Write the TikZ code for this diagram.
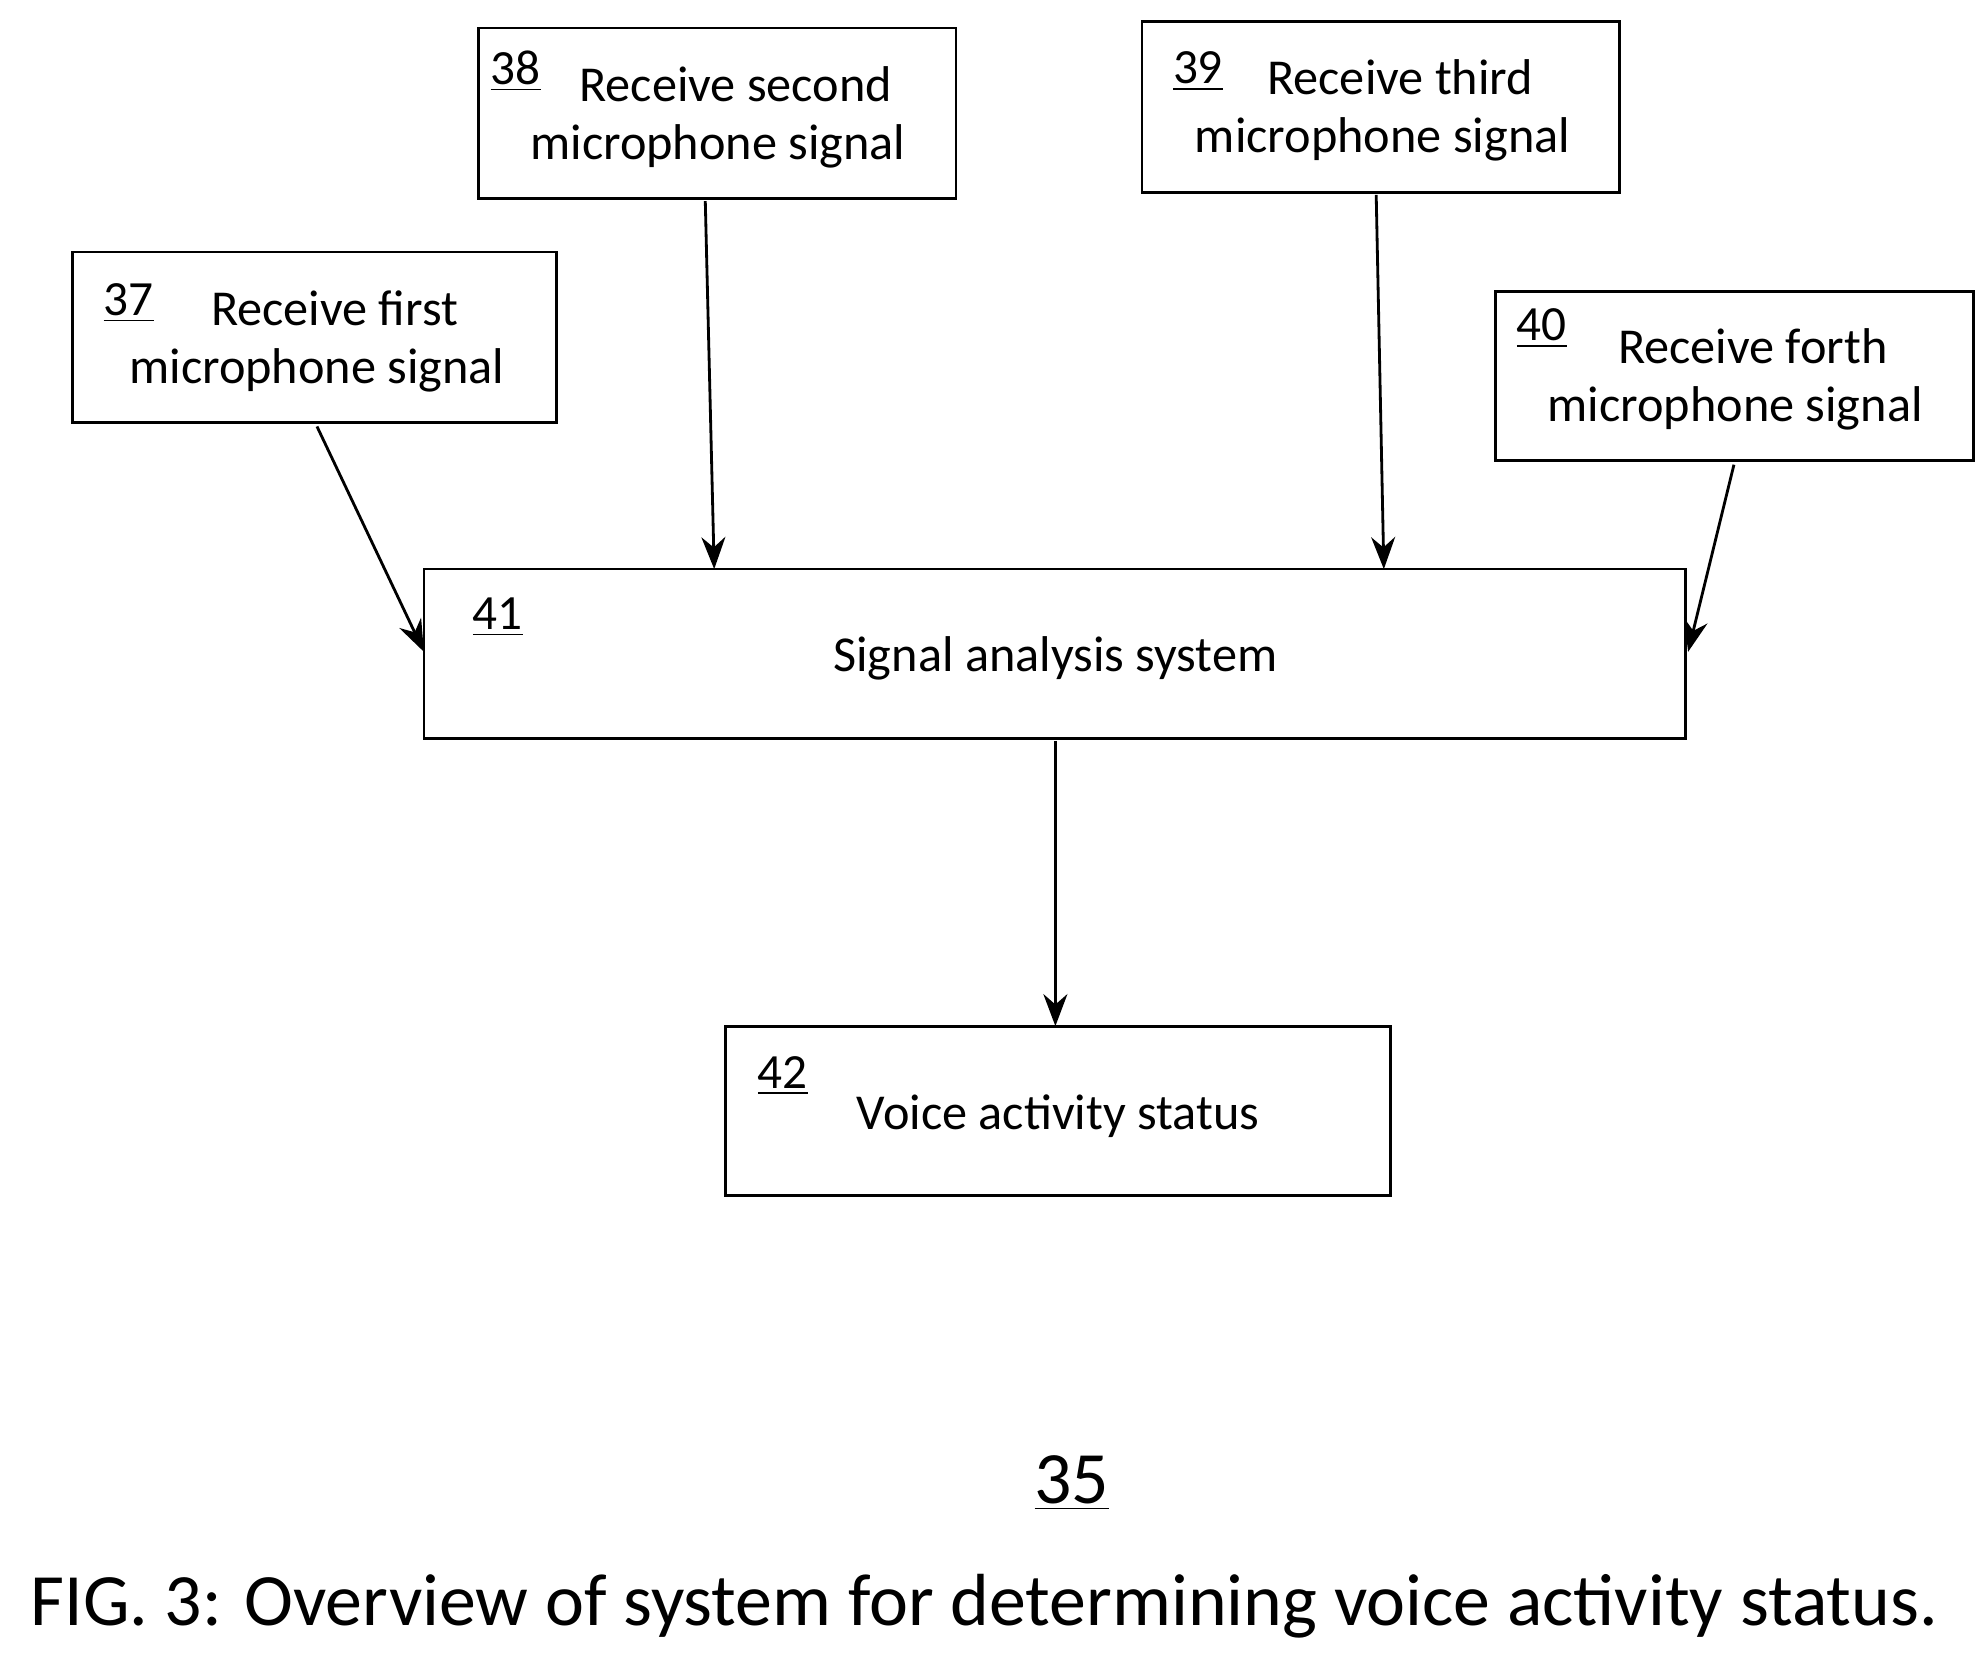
\documentclass[tikz,border=0pt]{standalone}
\usepackage{fontspec}
\setmainfont{Carlito}
\usetikzlibrary{positioning,arrows.meta}
\tikzset{
  box/.style={draw, thick, rectangle, inner sep=0pt},
  boxtext/.style={font=\fontsize{14.3pt}{16.5pt}\selectfont, align=center},
  num/.style={font=\fontsize{14pt}{15pt}\selectfont, anchor=center},
  flow/.style={thick, -{Stealth[length=3.2mm, width=2.4mm]}},
}
\begin{document}
\begin{tikzpicture}[x=0.01273cm, y=-0.01273cm]
\useasboundingbox (0,0) rectangle (1560,1299);

% input boxes
\draw[box] (57,198) rectangle (437,332);
\node[boxtext] (t37) at (249,268) {\hspace*{0.7em}Receive first\\microphone signal};
\node[num] (n37) at (101,238) {\underline{37}};

\draw[box] (376,22) rectangle (751,156);
\node[boxtext] (t38) at (564,92) {\hspace*{0.7em}Receive second\\microphone signal};
\node[num] (n38) at (405,56) {\underline{38}};

\draw[box] (897,17) rectangle (1272,151);
\node[boxtext] (t39) at (1086,87) {\hspace*{0.7em}Receive third\\microphone signal};
\node[num] (n39) at (941,56) {\underline{39}};

\draw[box] (1175,229) rectangle (1550,362);
\node[boxtext] (t40) at (1363,298) {\hspace*{0.7em}Receive forth\\microphone signal};
\node[num] (n40) at (1211,258) {\underline{40}};

% analysis and result
\draw[box] (333,447) rectangle (1324,580);
\node[boxtext] (t41) at (829,517) {Signal analysis system};
\node[num] (n41) at (391,485) {\underline{41}};

\draw[box] (570,806) rectangle (1092,939);
\node[boxtext] (t42) at (831,877) {Voice activity status};
\node[num] (n42) at (615,845) {\underline{42}};

% connectors
\coordinate (a37) at (249,335);  \coordinate (b37) at (333,512);
\coordinate (a38) at (554,158);  \coordinate (b38) at (561,447);
\coordinate (a39) at (1081,153); \coordinate (b39) at (1087,447);
\coordinate (a40) at (1362,365); \coordinate (b40) at (1326,512);
\coordinate (a41) at (829,582);  \coordinate (b41) at (829,806);
\foreach \i in {37,38,39,40,41}
  \draw[flow] (a\i) -- (b\i);

\node[font=\fontsize{21pt}{23pt}\selectfont] (fignum) at (842,1165) {\underline{35}};
\node[font=\fontsize{21pt}{23pt}\selectfont] (caption) at (773,1262) {FIG. 3: Overview of system for determining voice activity status.};
\end{tikzpicture}
\end{document}
